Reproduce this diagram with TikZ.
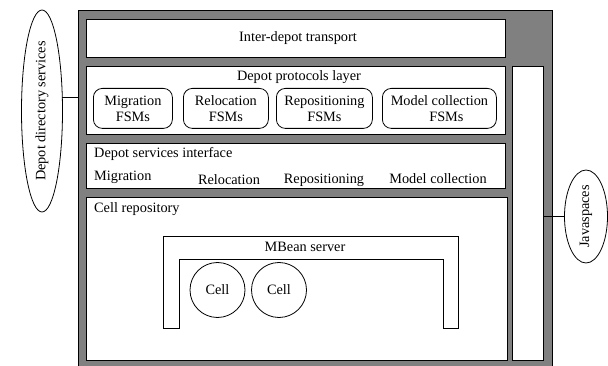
\documentclass[tikz,border=0pt]{standalone}
\usepackage{fontspec}
\setmainfont{Liberation Serif}
\newfontfamily\labelfont{Liberation Serif}
\usetikzlibrary{shapes.geometric,calc}
\begin{document}
\begin{tikzpicture}[x=1pt,y=-1pt,
  txt/.style={font=\labelfont\fontsize{14.3}{16}\selectfont, inner sep=0},
  frame/.style={draw, fill=gray, line width=0.8pt, inner sep=0, anchor=north west},
  layer/.style={draw, fill=white, line width=0.8pt, inner sep=0, anchor=north west},
  fsm/.style={txt, draw, rounded corners=9pt, line width=0.8pt, align=center,
    minimum height=40, anchor=north west},
  cell/.style={txt, draw, circle, line width=0.8pt, minimum size=55},
  svc/.style={draw, ellipse, rotate=90, line width=0.8pt, txt},
  link/.style={line width=0.8pt}]
\useasboundingbox (0,0) rectangle (608,366);

% outer container and layers
\node[frame, minimum width=474, minimum height=356] (frame) at (78,10) {};
\node[layer, minimum width=419, minimum height=38] (transport) at (86,19) {};
\node[layer, minimum width=419, minimum height=68] (protocols) at (86,66) {};
\node[layer, minimum width=419, minimum height=45] (services) at (86,143) {};
\node[layer, minimum width=421, minimum height=163] (repo) at (86,197) {};
\node[layer, minimum width=31, minimum height=294] (jscol) at (512,66) {};

% layer titles
\node[txt] (transportlbl) at (298,38) {Inter-depot transport};
\node[txt] (protolbl) at (299,77) {Depot protocols layer};
\node[txt, anchor=west] (svclbl) at (94,154) {Depot services interface};
\node[txt, anchor=west] (repolbl) at (94,209) {Cell repository};

% protocol state machines
\node[fsm, minimum width=79] (migfsm) at (93,88) {Migration\\FSMs};
\node[fsm, minimum width=85] (relfsm) at (183,88) {Relocation\\FSMs};
\node[fsm, minimum width=96] (repfsm) at (276,88) {Repositioning\\FSMs};
\node[fsm, minimum width=114] (modfsm) at (382,88) {Model collection\\\hspace*{14pt}FSMs};

% service entries
\node[txt, anchor=west] (svcmig) at (94,177) {Migration};
\node[txt] (svcrel) at (229,180) {Relocation};
\node[txt] (svcrep) at (324,180) {Repositioning};
\node[txt] (svcmod) at (438,179) {Model collection};

% MBean server
\draw[link] (163,328) -- (163,236) -- (458,236) -- (458,328) -- (443,328)
  -- (443,259) -- (179,259) -- (179,328) -- cycle;
\node[txt] (mbeanlbl) at (305,247) {MBean server};
\node[cell] (cella) at (217.5,290) {Cell};
\node[cell] (cellb) at (279,290) {Cell};

% external services
\node[svc, minimum width=202, minimum height=41] (dir) at (42,111) {Depot directory services};
\node[svc, minimum width=93, minimum height=43] (jsp) at (586,216.5) {Javaspaces};
\coordinate (dirport) at ($(dir.center)+(20.3,-14)$);
\draw[link] (dirport) -- (frame.west |- dirport);
\draw[link] (jscol.east |- jsp) -- (jsp);
\end{tikzpicture}
\end{document}
